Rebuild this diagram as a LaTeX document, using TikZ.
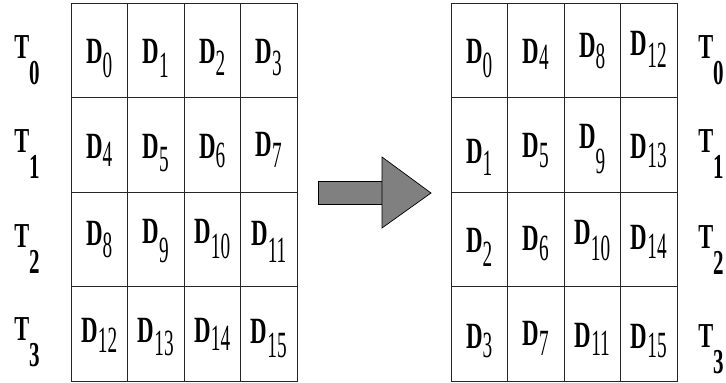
\documentclass[tikz,border=0pt]{standalone}
\usepackage{graphicx}
\usepackage{fontspec}
\setmainfont{Liberation Serif}
\newcommand{\Dlab}[2]{\hbox{\fontsize{37}{37}\selectfont\scalebox{0.62}[1]{\bfseries D}\raisebox{-#2pt}{\scalebox{0.52}[1]{#1}}}}
\newcommand{\Tlab}[1]{\hbox{\fontsize{35}{35}\selectfont\bfseries\scalebox{0.64}[1]{T}\raisebox{-26pt}{\scalebox{0.6}[1]{#1}}}}
\tikzset{
  cell/.style={draw=black!85, line width=0.8pt, minimum width=56.5pt, minimum height=94.5pt, inner sep=0pt, outer sep=0pt},
  lab/.style={inner sep=0pt, outer sep=0pt, anchor=base},
  bigarrow/.style={draw=black, line width=0.7pt, fill=black!50, line join=miter}
}
\begin{document}
\begin{tikzpicture}[x=1pt,y=-1pt]
\useasboundingbox (0,0) rectangle (726,383);
% grids
\foreach \c in {0,...,3} {
  \foreach \r in {0,...,3} {
    \node[cell] (LC\c\r) at ({99.25+56.5*\c},{50.25+94.5*\r}) {};
    \node[cell] (RC\c\r) at ({479.25+56.5*\c},{50.25+94.5*\r}) {};
  }
}
% left labels
\foreach \c/\r/\n/\b/\d in {
  0/0/0/63/14, 1/0/1/63/14, 2/0/2/63/12, 3/0/3/63/12,
  0/1/4/158/8, 1/1/5/158/13, 2/1/6/158/9, 3/1/7/156/11,
  0/2/8/245/12, 1/2/9/243/19, 2/2/10/243/15, 3/2/11/245/17,
  0/3/12/342/10, 1/3/13/342/13, 2/3/14/342/8, 3/3/15/343/14} {
  \node[lab] (LD\n) at ({99.25+56.5*\c},\b) {\Dlab{\n}{\d}};
}
% right labels
\foreach \c/\r/\n/\b/\d in {
  0/0/0/63/14, 1/0/4/63/6, 2/0/8/57/11, 3/0/12/55/12,
  0/1/1/163/12, 1/1/5/157/10, 2/1/9/148/25, 3/1/13/158/9,
  0/2/2/252/14, 1/2/6/250/10, 2/2/10/244/16, 3/2/14/249/9,
  0/3/3/348/9, 1/3/7/345/10, 2/3/11/347/8, 3/3/15/348/9} {
  \node[lab] (RD\n) at ({479.25+56.5*\c},\b) {\Dlab{\n}{\d}};
}
% T labels
\node[lab] (LT0) at (27,58) {\Tlab{0}};
\node[lab] (LT1) at (27,152) {\Tlab{1}};
\node[lab] (LT2) at (27,247) {\Tlab{2}};
\node[lab] (LT3) at (27,340) {\Tlab{3}};
\node[lab] (RT0) at (711,58) {\Tlab{0}};
\node[lab] (RT1) at (711,152) {\Tlab{1}};
\node[lab] (RT2) at (711,248) {\Tlab{2}};
\node[lab] (RT3) at (711,347) {\Tlab{3}};
% arrow
\draw[bigarrow] (318,181) rectangle (382,204);
\draw[bigarrow] (382,157) -- (431,193) -- (382,228) -- cycle;
\end{tikzpicture}
\end{document}
